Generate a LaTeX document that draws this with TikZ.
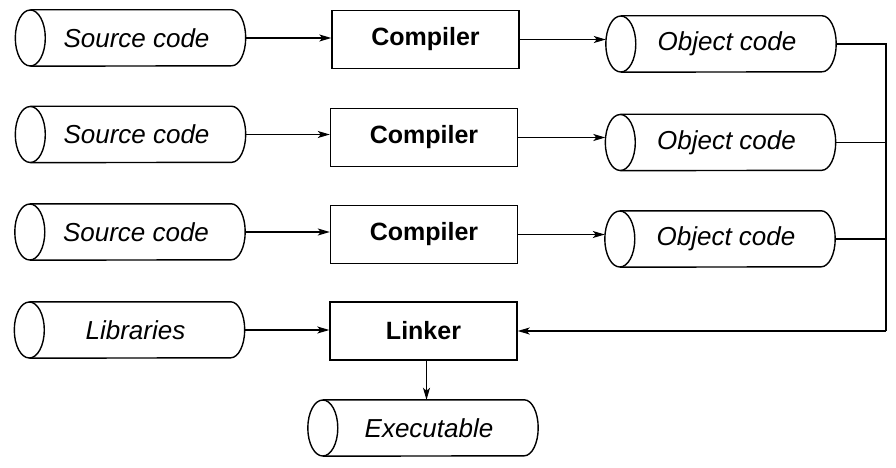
\documentclass[tikz,border=0pt]{standalone}
\usepackage{fontspec}
\setsansfont{Liberation Sans}
\usetikzlibrary{calc,arrows.meta}
\begin{document}
\begin{tikzpicture}[x=1pt,y=-1pt,
  every node/.style={font=\sffamily\fontsize{25}{30}\selectfont},
  cyl/.style={minimum width=230pt,minimum height=56pt,inner sep=0pt,
    font=\sffamily\itshape\fontsize{26}{30}\selectfont,
    execute at begin node={\hspace*{12pt}}},
  procbox/.style={draw,line width=1.4pt,minimum width=187pt,minimum height=58pt,
    inner sep=0pt,font=\sffamily\bfseries\fontsize{25}{30}\selectfont},
  outline/.style={line width=1.4pt},
  conn/.style={line width=1.2pt},
  arr/.style={conn,-{Stealth[length=12pt,width=7pt,inset=3pt]}}]
\useasboundingbox (0,0) rectangle (896,468);
% cylinders
\node[cyl] (s1) at (130.5,38) {Source code};
\node[cyl] (s2) at (130.5,134.5) {Source code};
\node[cyl] (s3) at (130,232) {Source code};
\node[cyl] (lib) at (129.5,330) {Libraries};
\node[cyl] (o1) at (721,44) {Object code};
\node[cyl] (o2) at (720.5,142.5) {Object code};
\node[cyl] (o3) at (720,239) {Object code};
\node[cyl] (exe) at (423,428) {Executable};
% process boxes
\node[procbox] (c1) at (425.5,39.5) {Compiler};
\node[procbox] (c2) at (424,137.5) {Compiler};
\node[procbox] (c3) at (424,234.5) {Compiler};
\node[procbox] (lnk) at (423.5,331) {Linker};
% cylinder outlines
\foreach \n in {s1,s2,s3,lib,o1,o2,o3,exe}{
  \draw[outline] ($(\n.west)+(15pt,0pt)$) ellipse [x radius=15pt,y radius=28pt];
  \draw[outline] ([xshift=15pt]\n.north west) -- ([xshift=-14pt]\n.north east)
    arc[start angle=90,end angle=-90,x radius=14pt,y radius=28pt]
    -- ([xshift=15pt]\n.south west);
}
% connectors
\draw[arr] (s1.east) -- (c1.west |- s1.east);
\draw[arr] (s2.east) -- (c2.west |- s2.east);
\draw[arr] (s3.east) -- (c3.west |- s3.east);
\draw[arr] (lib.east) -- (lnk.west |- lib.east);
\draw[arr] (c1.east) -- (o1.west |- c1.east);
\draw[arr] (c2.east) -- (o2.west |- c2.east);
\draw[arr] (c3.east) -- (o3.west |- c3.east);
\coordinate (bus) at (886,331);
\draw[conn] (o1.east) -| (bus);
\draw[conn] (o2.east) -- (o2.east -| bus);
\draw[conn] (o3.east) -- (o3.east -| bus);
\draw[arr] (bus) -- (lnk.east);
\draw[arr] ([xshift=3pt]lnk.south) -- ([xshift=3pt]lnk.south |- exe.north);
\end{tikzpicture}
\end{document}
